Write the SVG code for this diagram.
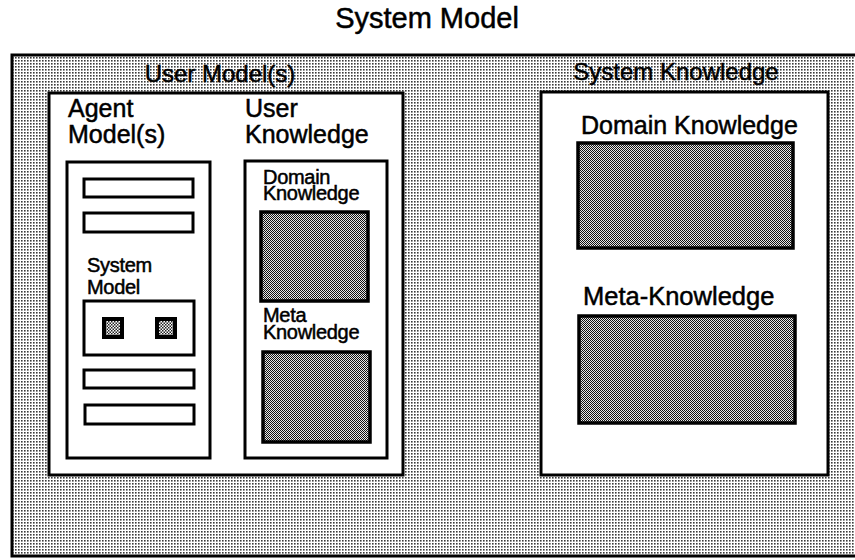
<svg xmlns="http://www.w3.org/2000/svg" width="855" height="560" viewBox="0 0 855 560">
  <defs>
    <!-- light dot screen used for the system model background -->
    <pattern id="dots-light" patternUnits="userSpaceOnUse" width="3" height="3">
      <rect width="3" height="3" fill="#ffffff"/>
      <rect x="0" y="0" width="1.6" height="1.6" fill="#3a3a3a"/>
    </pattern>
    <!-- dense checker screen used for knowledge stores -->
    <pattern id="dots-dark" patternUnits="userSpaceOnUse" width="2" height="2">
      <rect width="2" height="2" fill="#e6e6e6"/>
      <rect x="0" y="0" width="1" height="1" fill="#111"/>
      <rect x="1" y="1" width="1" height="1" fill="#111"/>
    </pattern>
    <!-- medium screen used inside the tiny model squares -->
    <pattern id="dots-mid" patternUnits="userSpaceOnUse" width="3" height="3">
      <rect width="3" height="3" fill="#ffffff"/>
      <rect x="0" y="0" width="1.5" height="1.5" fill="#222"/>
      <rect x="1.5" y="1.5" width="1.5" height="1.5" fill="#222"/>
    </pattern>
  </defs>
  <style>
    text { font-family: "Liberation Sans", Arial, Helvetica, sans-serif; fill: #000; stroke: #000; stroke-width: 0.5; }
    .panel { fill: #ffffff; stroke: #000; stroke-width: 3; }
    .store { fill: url(#dots-dark); stroke: #000; stroke-width: 3.5; }
    .slot { fill: #ffffff; stroke: #000; stroke-width: 3; }
    .tiny { fill: url(#dots-mid); stroke: #000; stroke-width: 4; }
    .big { font-size: 25px; }
    .mid { font-size: 24px; }
    .small { font-size: 20px; letter-spacing: -0.3px; }
  </style>

  <rect width="855" height="560" fill="#ffffff"/>

  <!-- title -->
  <text id="title" x="427" y="28" font-size="29" text-anchor="middle">System Model</text>

  <!-- outer system model area -->
  <g id="system-model">
    <rect x="12" y="55" width="850" height="501" fill="url(#dots-light)" stroke="#000" stroke-width="3"/>
  </g>

  <!-- user models -->
  <g id="user-models">
    <text x="220" y="82" class="mid" text-anchor="middle">User Model(s)</text>
    <rect class="panel" x="49" y="93" width="354" height="382"/>
  </g>

  <!-- agent models column -->
  <g id="agent-models">
    <text x="68" y="117" class="big">Agent</text>
    <text x="68" y="143" class="big">Model(s)</text>
    <rect class="panel" x="67" y="162" width="143" height="296"/>
    <rect class="slot" x="84" y="179" width="109" height="18"/>
    <rect class="slot" x="84" y="213" width="109" height="19"/>
    <rect class="slot" x="84" y="370" width="110" height="18"/>
    <rect class="slot" x="85" y="405" width="109" height="19"/>
  </g>

  <!-- embedded system model -->
  <g id="agent-system-model">
    <text x="87" y="272" class="small">System</text>
    <text x="87" y="294" class="small">Model</text>
    <rect class="slot" x="84" y="301" width="110" height="54"/>
    <rect class="tiny" x="104" y="319" width="18" height="18"/>
    <rect class="tiny" x="157" y="319" width="18" height="18"/>
  </g>

  <!-- user knowledge column -->
  <g id="user-knowledge">
    <text x="245" y="117" class="big">User</text>
    <text x="245" y="143" class="big">Knowledge</text>
    <rect class="panel" x="245" y="161" width="142" height="297"/>
  </g>

  <g id="user-domain-knowledge">
    <text x="263" y="184" class="small">Domain</text>
    <text x="263" y="200" class="small">Knowledge</text>
    <rect class="store" x="261" y="212" width="107" height="89"/>
  </g>

  <g id="user-meta-knowledge">
    <text x="263" y="322" class="small">Meta</text>
    <text x="263" y="339" class="small">Knowledge</text>
    <rect class="store" x="263" y="352" width="107" height="90"/>
  </g>

  <!-- system knowledge -->
  <g id="system-knowledge">
    <text x="676" y="80" class="mid" text-anchor="middle">System Knowledge</text>
    <rect class="panel" x="541" y="92" width="287" height="383"/>
  </g>

  <g id="system-domain-knowledge">
    <text x="581" y="134" class="big">Domain Knowledge</text>
    <rect class="store" x="578" y="143" width="215" height="105"/>
  </g>

  <g id="system-meta-knowledge">
    <text x="583" y="305" font-size="25.5">Meta-Knowledge</text>
    <rect class="store" x="579" y="316" width="216" height="107"/>
  </g>

  <!-- no connectors in this diagram -->
  <g id="connectors"/>
</svg>
